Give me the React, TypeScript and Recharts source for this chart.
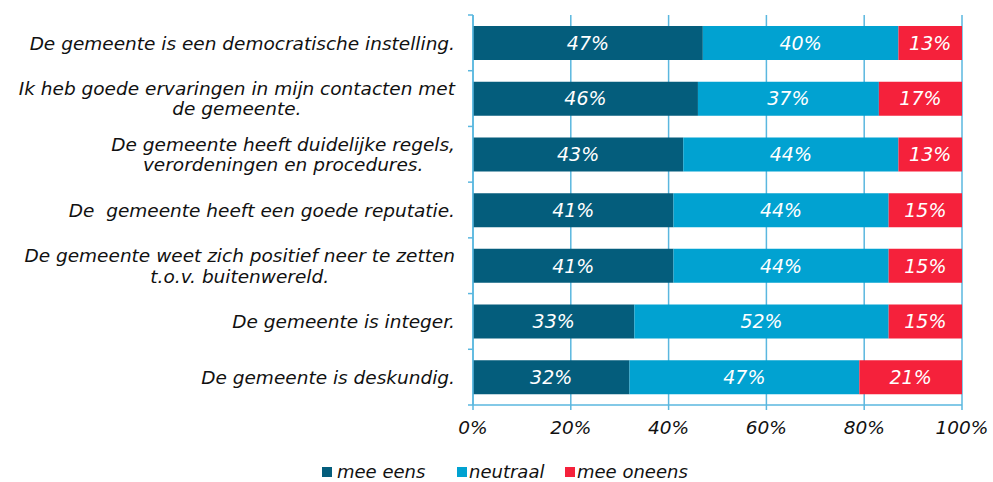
import React from 'react';
import { BarChart, Bar, XAxis, YAxis, CartesianGrid, Legend, LabelList } from 'recharts';

// statements (line breaks as in the original labels)
const categories = [
  'De gemeente is een democratische instelling.',
  'Ik heb goede ervaringen in mijn contacten met\nde gemeente.',
  'De gemeente heeft duidelijke regels,\nverordeningen en procedures.',
  'De  gemeente heeft een goede reputatie.',
  'De gemeente weet zich positief neer te zetten\nt.o.v. buitenwereld.',
  'De gemeente is integer.',
  'De gemeente is deskundig.',
];

const meeEens = [47, 46, 43, 41, 41, 33, 32];
const neutraal = [40, 37, 44, 44, 44, 52, 47];
const meeOneens = [13, 17, 13, 15, 15, 15, 21];

const xTicks = [0, 20, 40, 60, 80, 100];

const series = [
  { key: 'meeEens', name: 'mee eens', color: '#045D7C' },
  { key: 'neutraal', name: 'neutraal', color: '#01A2D1' },
  { key: 'meeOneens', name: 'mee oneens', color: '#F5213B' },
];

const data = categories.map((name, i) => ({
  name,
  meeEens: meeEens[i],
  neutraal: neutraal[i],
  meeOneens: meeOneens[i],
}));

const FONT = '"DejaVu Sans", Verdana, sans-serif';
const AXIS_BLUE = '#5AB7DF';
const LABEL_SIZE = 18.5;
const LINE_H = 20.5;

let ctx: CanvasRenderingContext2D | null = null;
const measure = (s: string) => {
  if (!ctx) ctx = document.createElement('canvas').getContext('2d');
  if (!ctx) return s.length * 10;
  ctx.font = `italic ${LABEL_SIZE}px ${FONT}`;
  return ctx.measureText(s).width;
};

const CategoryTick = (props: any) => {
  const { x, y, payload, index } = props;
  const lines = String(payload.value).split('\n');
  const maxW = Math.max(...lines.map(measure));
  const cx = x - maxW / 2;
  const band = 390 / categories.length;
  const axisX = x + 18;
  return (
    <g>
      {lines.map((ln, i) => (
        <text
          key={i}
          x={cx}
          y={y + (i - (lines.length - 1) / 2) * LINE_H}
          dy="0.36em"
          textAnchor="middle"
          fill="#111"
          style={{ fontFamily: FONT, fontStyle: 'italic', fontSize: LABEL_SIZE, whiteSpace: 'pre' }}
        >
          {ln}
        </text>
      ))}
      <line x1={axisX - 5} x2={axisX} y1={y - band / 2} y2={y - band / 2} stroke={AXIS_BLUE} strokeWidth={1.5} />
      {index === categories.length - 1 && (
        <line x1={axisX - 5} x2={axisX} y1={y + band / 2} y2={y + band / 2} stroke={AXIS_BLUE} strokeWidth={1.5} />
      )}
    </g>
  );
};

const legendLeft = [322, 457, 565];

const LegendContent = () => (
  <div style={{ position: 'relative', height: 21, fontFamily: FONT }}>
    {series.map((s, i) => (
      <div
        key={s.key}
        style={{ position: 'absolute', left: legendLeft[i], top: 0, height: 21, display: 'flex', alignItems: 'center' }}
      >
        <span style={{ width: 10, height: 10, background: s.color, display: 'inline-block', marginRight: i === 0 ? 5 : 2 }} />
        <span style={{ fontStyle: 'italic', fontSize: 18, color: '#111', lineHeight: '21px', whiteSpace: 'nowrap' }}>{s.name}</span>
      </div>
    ))}
  </div>
);

export default function App() {
  return (
    <div style={{ position: 'absolute', left: 0, top: 0, width: 993, height: 482, background: '#fff' }}>
      <BarChart
        width={993}
        height={482}
        data={data}
        layout="vertical"
        margin={{ top: 15, right: 31, bottom: 0, left: 0 }}
        barSize={34}
      >
        <CartesianGrid horizontal={false} stroke={AXIS_BLUE} strokeWidth={1.5} />
        <XAxis
          type="number"
          domain={[0, 100]}
          ticks={xTicks}
          tickFormatter={(v) => `${v}%`}
          height={56}
          axisLine={{ stroke: AXIS_BLUE, strokeWidth: 1.5 }}
          tickLine={{ stroke: AXIS_BLUE, strokeWidth: 1.5 }}
          tickSize={5}
          tickMargin={11}
          tick={{ fill: '#111', fontSize: 18.5, fontStyle: 'italic', fontFamily: FONT }}
        />
        <YAxis
          type="category"
          dataKey="name"
          width={473}
          interval={0}
          tickSize={0}
          tickMargin={18}
          axisLine={{ stroke: AXIS_BLUE, strokeWidth: 1.5 }}
          tickLine={false}
          tick={<CategoryTick />}
        />
        <Legend verticalAlign="bottom" wrapperStyle={{ bottom: 0, left: 0, width: 993 }} content={<LegendContent />} />
        {series.map((s) => (
          <Bar key={s.key} dataKey={s.key} name={s.name} stackId="a" fill={s.color} isAnimationActive={false}>
            <LabelList
              dataKey={s.key}
              position="center"
              formatter={(v: any) => `${v}%`}
              fill="#fff"
              style={{ fontStyle: 'italic', fontSize: 19, fontFamily: FONT }}
            />
          </Bar>
        ))}
      </BarChart>
    </div>
  );
}
